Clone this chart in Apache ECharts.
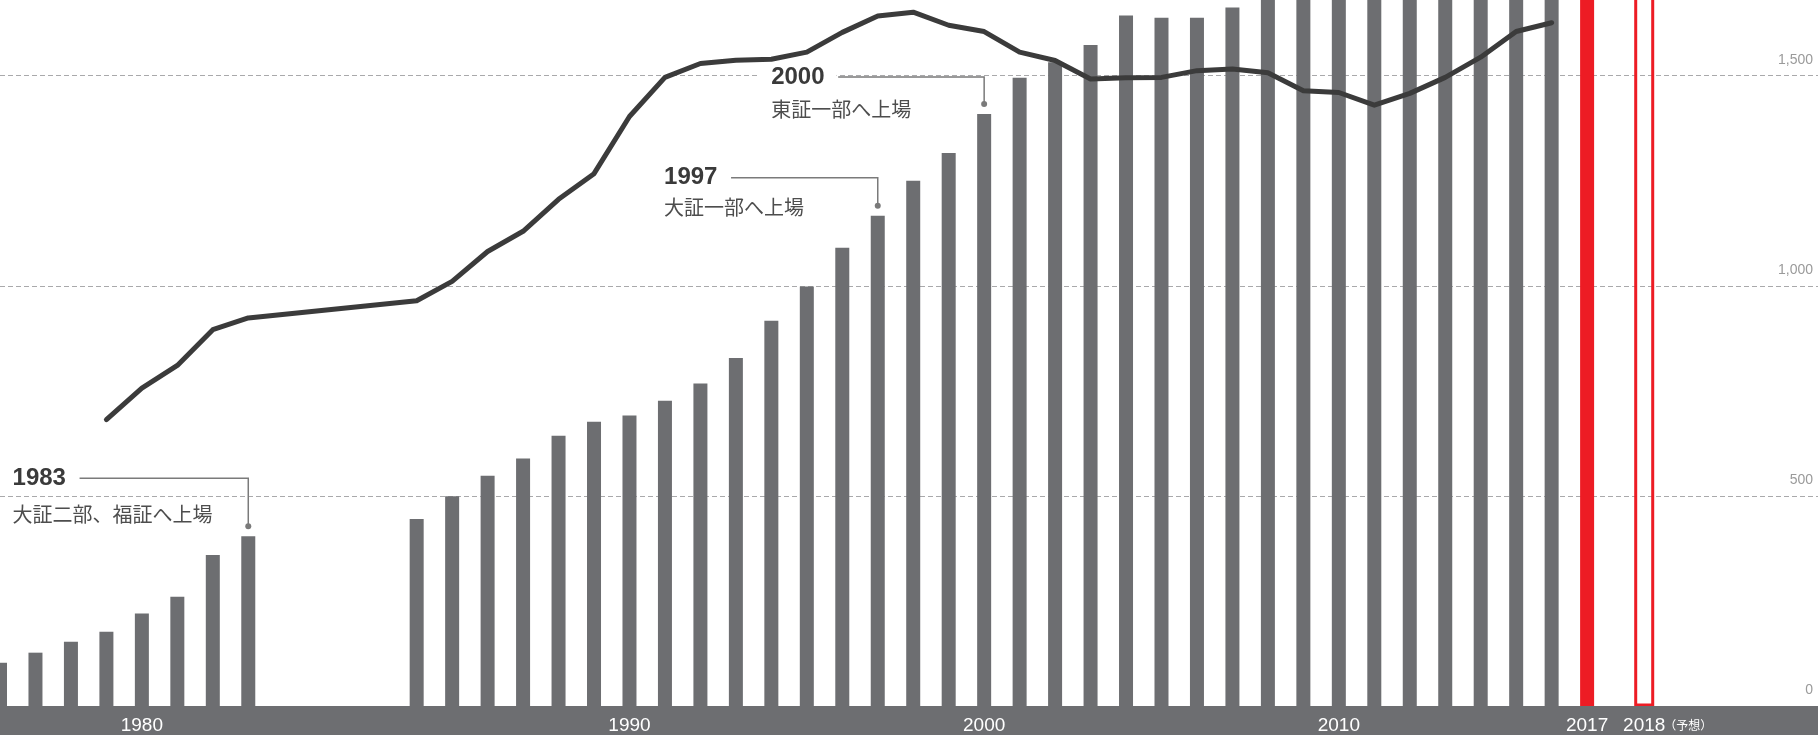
<!DOCTYPE html>
<html><head><meta charset="utf-8">
<script src="https://cdn.jsdelivr.net/npm/echarts@6/dist/echarts.min.js"></script>
<style>html,body{margin:0;padding:0;background:#fff}#c{width:1818px;height:735px}</style>
</head><body><div id="c"></div>
<script>
// ---- data ----
const years = [1976,1977,1978,1979,1980,1981,1982,1983,1984,1985,1986,1987,1988,1989,1990,1991,1992,1993,1994,1995,1996,1997,1998,1999,2000,2001,2002,2003,2004,2005,2006,2007,2008,2009,2010,2011,2012,2013,2014,2015,2016,2017];
const barValues = [104,128,154,178,221,261,360,405,446,500,549,590,644,677,692,727,768,829,917,999,1091,1167,1250,1316,1409,1495,1532,1573,1643,1638,1638,1662,1700,1730,1760,1790,1820,1850,1880,1910,1940,1970];
const highlightYear = 2017;
const forecastYears = [2018];
const forecastValues = [2000];
const forecastNote = '（予想）';
const lineYears = [1979,1980,1981,1982,1983,1984,1985,1986,1987,1988,1989,1990,1991,1992,1993,1994,1995,1996,1997,1998,1999,2000,2001,2002,2003,2004,2005,2006,2007,2008,2009,2010,2011,2012,2013,2014,2015,2016];
const lineValues = [682,757,811,896,924,965,1011,1082,1130,1206,1267,1403,1496,1529,1537,1539,1556,1603,1642,1651,1620,1605,1556,1536,1492,1495,1496,1512,1516,1507,1464,1460,1430,1458,1496,1544,1605,1626];
const xTickLabels = [1980,1990,2000,2010,2017,2018];
const yTickValues = [0,500,1000,1500];
const annotations = [
  {year:1983, title:'1983', sub:'大証二部、福証へ上場'},
  {year:1997, title:'1997', sub:'大証一部へ上場'},
  {year:2000, title:'2000', sub:'東証一部へ上場'}
];
// ---- layout of annotations (px offsets) ----
const annoLayout = {
  1983:{dx:-235.7, leaderDy:-48, subDy:36},
  1997:{dx:-213.7, leaderDy:-28, subDy:30},
  2000:{dx:-213, leaderDy:-27, subDy:32}
};

const chart = echarts.init(document.getElementById('c'), null, {renderer:'canvas'});
const LABEL_FONT = '"Liberation Sans Narrow", "Liberation Sans", Arial, sans-serif';
const xBase = {
  type:'value', min:1976, max:2022.9,
  breaks:[{start:1983.3, end:1983.7, gap:4.148},{start:2017.3, end:2017.7, gap:1.01}],
  breakArea:{show:false},
  splitLine:{show:false}
};
chart.setOption({
  animation:false,
  backgroundColor:'#fff',
  grid:[
    {left:0, right:0, top:0, bottom:28, containLabel:false},
    {left:0, right:0, top:706, bottom:0, show:true, backgroundColor:'#6d6e71', borderWidth:0, z:6}
  ],
  xAxis:[
    Object.assign({}, xBase, {
      gridIndex:0, position:'bottom', z:8,
      axisLine:{show:false},
      axisTick:{show:false},
      axisLabel:{
        customValues:xTickLabels, margin:19, verticalAlign:'middle', hideOverlap:false,
        color:'#fff', fontSize:19, fontFamily:LABEL_FONT,
        formatter:function(v){ return String(v); }
      }
    }),
    Object.assign({}, xBase, {gridIndex:0, show:false}),
    {type:'value', gridIndex:1, show:false}
  ],
  yAxis:[
    {
      type:'value', gridIndex:0, min:0, max:1680, interval:500, position:'right',
      axisLine:{show:false}, axisTick:{show:false},
      splitLine:{showMaxLine:false, lineStyle:{color:'#a9a9ab', type:[5,3], width:1}},
      axisLabel:{inside:true, margin:5, customValues:yTickValues, color:'#9a9a9a', fontSize:14,
        fontFamily:'"Liberation Sans", Arial, sans-serif',
        verticalAlign:'bottom', padding:[0,0,9,0],
        formatter:function(v){ return v.toLocaleString('en-US'); }}
    },
    {type:'value', gridIndex:1, show:false}
  ],
  series:[
    {type:'bar', xAxisIndex:0, yAxisIndex:0, barWidth:14, clip:true, z:2,
     itemStyle:{color:'#6d6e71'},
     data:years.map(function(y,i){
       return y===highlightYear ? {value:[y,barValues[i]], itemStyle:{color:'#ed1c24'}} : [y,barValues[i]];
     })},
    {type:'bar', xAxisIndex:1, yAxisIndex:0, barWidth:20, clip:false, z:1,
     itemStyle:{color:'rgba(255,255,255,0)', borderColor:'#ed1c24', borderWidth:3},
     data:forecastYears.map(function(y,i){ return [y,forecastValues[i]]; })},
    {type:'line', xAxisIndex:0, yAxisIndex:0, z:4, symbol:'none', showSymbol:false, smooth:false,
     lineStyle:{color:'#3b3b3b', width:5, cap:'round', join:'round'},
     data:lineYears.map(function(y,i){ return [y,lineValues[i]]; })}
  ]
});

const gs = [];
annotations.forEach(function(a){
  const i = years.indexOf(a.year);
  const p = chart.convertToPixel({xAxisIndex:0, yAxisIndex:0}, [a.year, barValues[i]]);
  const L = annoLayout[a.year];
  const px = p[0], dotY = p[1]-10;
  const ly = dotY + L.leaderDy;
  const tx = px + L.dx;
  gs.push({type:'polyline', z:10, shape:{points:[[tx+67,ly],[px,ly],[px,dotY]]}, style:{stroke:'#7a7a7a', lineWidth:1.5, fill:null}});
  gs.push({type:'circle', z:10, shape:{cx:px, cy:dotY, r:3}, style:{fill:'#7a7a7a'}});
  gs.push({type:'text', z:11, x:tx-13, y:ly, style:{text:a.title, fontSize:24, fontWeight:'bold', lineHeight:20, fontFamily:'"Liberation Sans", Arial, sans-serif', fill:'#3a3a3a', verticalAlign:'middle', align:'left', backgroundColor:'#fff', padding:[0,12,0,13]}});
  gs.push({type:'text', z:11, x:tx, y:ly+L.subDy, style:{text:a.sub, fontSize:20, fontFamily:'"Noto Sans CJK JP", sans-serif', fill:'#4d4d4d', verticalAlign:'middle', align:'left'}});
});
// forecast note next to the 2018 axis label
const fp = chart.convertToPixel({xAxisIndex:0, yAxisIndex:0}, [forecastYears[0], 0]);
gs.push({type:'text', z:12, x:fp[0]+20, y:fp[1]+19, style:{text:forecastNote, fontSize:12, fontFamily:'"Noto Sans CJK JP", sans-serif', fill:'#fff', verticalAlign:'middle', align:'left'}});
chart.setOption({graphic:gs});
</script>
</body></html>
